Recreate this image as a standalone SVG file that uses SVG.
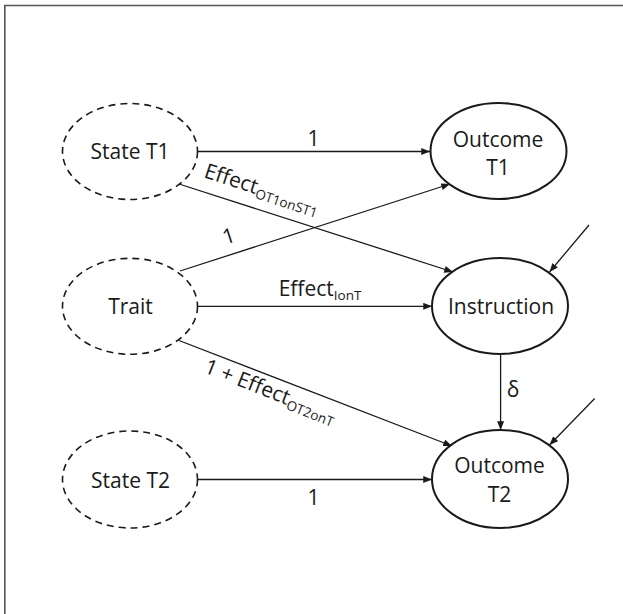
<svg xmlns="http://www.w3.org/2000/svg" width="623" height="614" viewBox="0 0 623 614">
<defs>
<marker id="ah" viewBox="0 0 10 8" refX="10" refY="4" markerWidth="9" markerHeight="7" markerUnits="userSpaceOnUse" orient="auto">
<path d="M0,0 L10,4 L0,8 Z" fill="#1a1a1a"/>
</marker>
<style>
text{font-family:"Open Sans","Noto Sans","Liberation Sans",sans-serif;fill:#1a1a1a;font-size:21px}
.sub{font-size:13.5px}
.lat{fill:#fff;stroke:#1a1a1a;stroke-width:1.6;stroke-dasharray:7 5}
.obs{fill:#fff;stroke:#1a1a1a;stroke-width:2}
.c{stroke:#1a1a1a;stroke-width:1.3;fill:none;marker-end:url(#ah)}
.frame{stroke:#555;stroke-width:1.6;fill:none}
</style>
</defs>
<rect width="623" height="614" fill="#fff"/>
<path class="frame" d="M4.8,614 L4.8,5.5 L623,5.5"/>
<g id="connectors">
<line class="c" x1="197.5" y1="151.5" x2="430" y2="151.5"/>
<line class="c" x1="179" y1="184" x2="453" y2="272"/>
<line class="c" x1="180" y1="271" x2="450" y2="184"/>
<line class="c" x1="197.5" y1="306.3" x2="432" y2="306.3"/>
<line class="c" x1="179" y1="340.5" x2="452" y2="446"/>
<line class="c" x1="500.6" y1="354" x2="500.6" y2="430"/>
<line class="c" x1="197.5" y1="479.5" x2="432" y2="479.5"/>
<line class="c" x1="589" y1="225" x2="549.5" y2="272"/>
<line class="c" x1="594.7" y1="398.5" x2="549.5" y2="445"/>
<text x="313.5" y="146" text-anchor="middle">1</text>
<text x="313.5" y="505" text-anchor="middle">1</text>
<text x="320" y="296" text-anchor="middle">Effect<tspan class="sub" dy="4">IonT</tspan></text>
<text x="513" y="397" text-anchor="middle">δ</text>
<text transform="translate(203,177) rotate(18)">Effect<tspan class="sub" dy="4">OT1onST1</tspan></text>
<text transform="translate(231,243) rotate(-18)" text-anchor="middle">1</text>
<text transform="translate(203,372) rotate(21.5)">1 + Effect<tspan class="sub" dy="4">OT2onT</tspan></text>
</g>
<g id="state-t1">
<ellipse class="lat" cx="130" cy="151.5" rx="67.5" ry="48"/>
<text x="130" y="159" text-anchor="middle">State T1</text>
</g>
<g id="trait">
<ellipse class="lat" cx="130" cy="306.3" rx="67.5" ry="48"/>
<text x="130.5" y="314" text-anchor="middle">Trait</text>
</g>
<g id="state-t2">
<ellipse class="lat" cx="130" cy="479.5" rx="67.5" ry="48.5"/>
<text x="130.5" y="487.5" text-anchor="middle">State T2</text>
</g>
<g id="outcome-t1">
<ellipse class="obs" cx="498.5" cy="151" rx="68" ry="48"/>
<text x="498" y="147" text-anchor="middle">Outcome</text>
<text x="498" y="175" text-anchor="middle">T1</text>
</g>
<g id="instruction">
<ellipse class="obs" cx="500" cy="306" rx="68" ry="48"/>
<text x="501" y="314" text-anchor="middle">Instruction</text>
</g>
<g id="outcome-t2">
<ellipse class="obs" cx="500" cy="479" rx="68" ry="49"/>
<text x="499.5" y="473" text-anchor="middle">Outcome</text>
<text x="499.5" y="502" text-anchor="middle">T2</text>
</g>
</svg>
